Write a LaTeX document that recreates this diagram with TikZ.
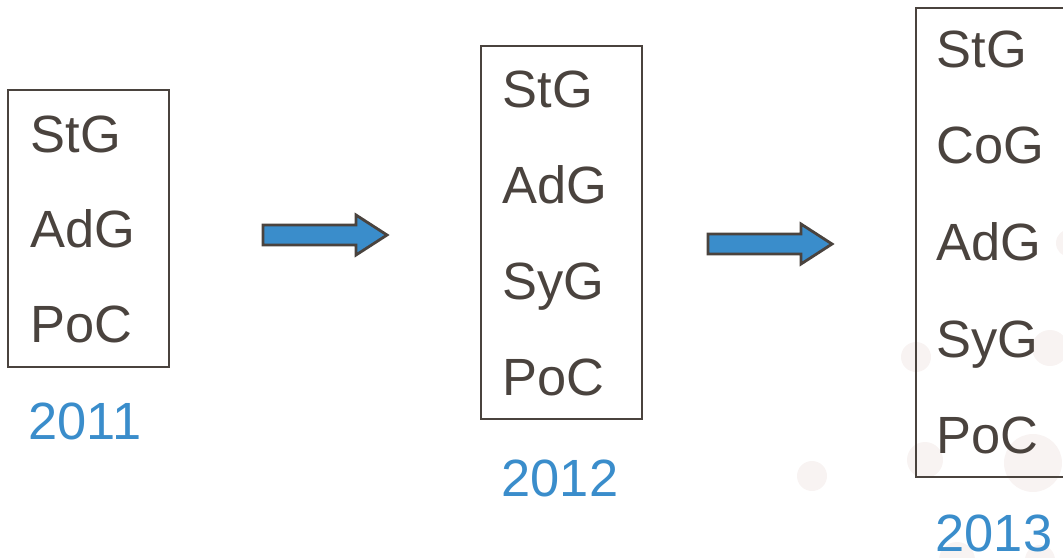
\documentclass[tikz,border=0pt]{standalone}
\usepackage{fontspec}
\setmainfont{Liberation Sans}
\usepackage{tikz}
\usetikzlibrary{positioning}

\definecolor{inkgray}{HTML}{4A433E}
\definecolor{yearblue}{HTML}{3A8DCB}
\definecolor{dotpink}{HTML}{F8F3F2}

\tikzset{
    stagebox/.style={draw=inkgray, line width=0.6pt, rectangle, inner sep=0pt},
    item/.style={anchor=base west, inner sep=0pt, text=inkgray, font=\fontsize{14.9}{18}\selectfont},
    year/.style={anchor=base west, inner sep=0pt, text=yearblue, font=\fontsize{14.9}{18}\selectfont},
    blockarrow/.style={draw=inkgray, line width=0.8pt, fill=yearblue, line join=miter},
    dot/.style={fill=dotpink, draw=none}
}

\begin{document}
\begin{tikzpicture}[x=0.01cm, y=-0.01cm]
            \useasboundingbox (0,0) rectangle (1063,557);
            \clip (0,0) rectangle (1063,557);
            % faint background dots
            \fill[dot] (812,476) circle (15);
            \fill[dot] (916,357) circle (15);
            \fill[dot] (925,460) circle (18);
            \fill[dot] (1050,348) circle (18);
            \fill[dot] (1070,243) circle (14);
            \fill[dot] (1033,463) circle (29);
            \fill[dot] (957,560) circle (18);
            \fill[dot] (1040,560) circle (15);
            % 2011
            \node[stagebox, minimum width=1.61cm, minimum height=2.77cm] (box11) at (88.5,228.5) {};
            \node[item] (stg11) at (30,152) {StG};
            \node[item] (adg11) at (30,247) {AdG};
            \node[item] (poc11) at (30,342) {PoC};
            \node[year] (y11) at (28,439) {2011};
            % 2012
            \node[stagebox, minimum width=1.61cm, minimum height=3.73cm] (box12) at (561.5,232.5) {};
            \node[item] (stg12) at (502,107) {StG};
            \node[item] (adg12) at (502,203) {AdG};
            \node[item] (syg12) at (502,299) {SyG};
            \node[item] (poc12) at (502,395) {PoC};
            \node[year] (y12) at (501,496) {2012};
            % 2013
            \node[stagebox, minimum width=2.0cm, minimum height=4.69cm] (box13) at (1016,242.5) {};
            \node[item] (stg13) at (936,67) {StG};
            \node[item] (cog13) at (936,163) {CoG};
            \node[item] (adg13) at (936,260) {AdG};
            \node[item] (syg13) at (936,357) {SyG};
            \node[item] (poc13) at (936,453) {PoC};
            \node[year] (y13) at (935,551) {2013};
            % arrows
            \draw[blockarrow] (263,225) -- (356,225) -- (356,215) -- (387,235)
                -- (356,255) -- (356,245) -- (263,245) -- cycle;
            \draw[blockarrow] (708,234) -- (801,234) -- (801,224) -- (832,244)
                -- (801,264) -- (801,254) -- (708,254) -- cycle;
        \end{tikzpicture}
\end{document}
